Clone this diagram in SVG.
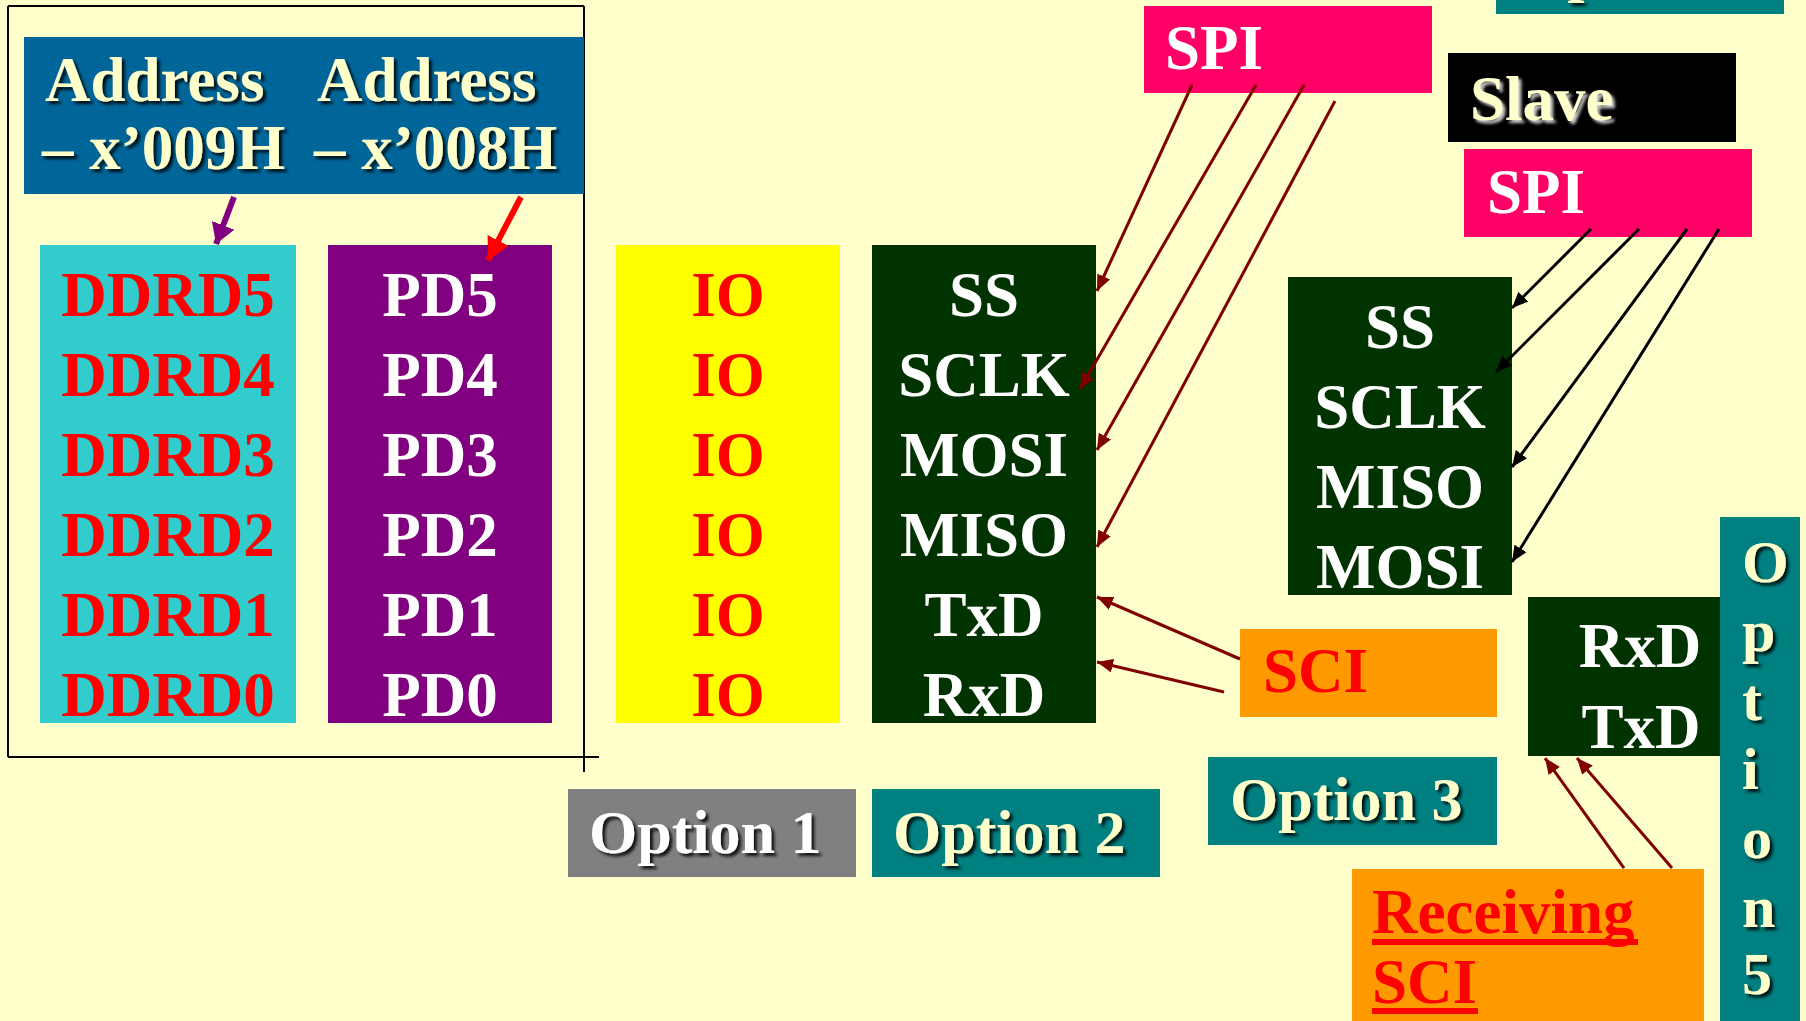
<svg xmlns="http://www.w3.org/2000/svg" width="1806" height="1021" viewBox="0 0 1806 1021">
  <defs>
    <style>
      .t { font-family: "Liberation Serif", "Times New Roman", serif; font-weight: bold; font-size: 63px; }
      .opt { font-size: 62px; }
      .mid { text-anchor: middle; }
      .cream { fill: #FFFFCC; }
      .white { fill: #FFFFFF; }
      .red { fill: #FF0000; }
      .wire { stroke: #800000; stroke-width: 3; fill: none; }
      .wire-k { stroke: #000000; stroke-width: 3; fill: none; }
      .frame { stroke: #000000; stroke-width: 2; fill: none; }
    </style>
    <filter id="shadow" x="-10%" y="-20%" width="130%" height="150%">
      <feDropShadow dx="3" dy="3" stdDeviation="1.5" flood-color="#000000" flood-opacity="0.85"/>
    </filter>
    <filter id="glow" x="-10%" y="-20%" width="130%" height="150%">
      <feDropShadow dx="3" dy="3" stdDeviation="1.5" flood-color="#E0E0E0" flood-opacity="0.9"/>
    </filter>
    <marker id="ah-maroon" markerUnits="userSpaceOnUse" markerWidth="18" markerHeight="16" refX="16" refY="7" orient="auto">
      <path d="M0,0 L16,7 L0,14 Z" fill="#800000"/>
    </marker>
    <marker id="ah-black" markerUnits="userSpaceOnUse" markerWidth="18" markerHeight="16" refX="16" refY="7" orient="auto">
      <path d="M0,0 L16,7 L0,14 Z" fill="#000000"/>
    </marker>
    <marker id="ah-purple" markerUnits="userSpaceOnUse" markerWidth="22" markerHeight="26" refX="20" refY="12" orient="auto">
      <path d="M0,0 L20,12 L0,24 Z" fill="#800080"/>
    </marker>
    <marker id="ah-red" markerUnits="userSpaceOnUse" markerWidth="24" markerHeight="26" refX="22" refY="12" orient="auto">
      <path d="M0,0 L22,12 L0,24 Z" fill="#FF0000"/>
    </marker>
  </defs>

  <!-- page -->
  <rect x="0" y="0" width="1806" height="1021" fill="#FFFFCC"/>

  <!-- register frame -->
  <g id="frame">
    <line class="frame" x1="8" y1="6" x2="584" y2="6"/>
    <line class="frame" x1="8" y1="6" x2="8" y2="757"/>
    <line class="frame" x1="8" y1="757" x2="599" y2="757"/>
    <line class="frame" x1="584" y1="6" x2="584" y2="772"/>
  </g>

  <g id="address">
    <rect x="24" y="37" width="560" height="157" fill="#006699"/>
    <g class="t cream" filter="url(#shadow)">
      <text x="45" y="101">Address</text>
      <text x="317" y="101">Address</text>
      <text x="42" y="169">– x’009H</text>
      <text x="314" y="169">– x’008H</text>
    </g>
  </g>

  <g id="ddrd">
    <rect x="40" y="245" width="256" height="478" fill="#33CCCC"/>
    <g class="t red mid">
      <text x="168" y="316">DDRD5</text>
      <text x="168" y="396">DDRD4</text>
      <text x="168" y="476">DDRD3</text>
      <text x="168" y="556">DDRD2</text>
      <text x="168" y="636">DDRD1</text>
      <text x="168" y="716">DDRD0</text>
    </g>
  </g>

  <g id="portd">
    <rect x="328" y="245" width="224" height="478" fill="#800080"/>
    <g class="t white mid">
      <text x="440" y="316">PD5</text>
      <text x="440" y="396">PD4</text>
      <text x="440" y="476">PD3</text>
      <text x="440" y="556">PD2</text>
      <text x="440" y="636">PD1</text>
      <text x="440" y="716">PD0</text>
    </g>
  </g>

  <g id="io">
    <rect x="616" y="245" width="224" height="478" fill="#FFFF00"/>
    <g class="t red mid">
      <text x="728" y="316">IO</text>
      <text x="728" y="396">IO</text>
      <text x="728" y="476">IO</text>
      <text x="728" y="556">IO</text>
      <text x="728" y="636">IO</text>
      <text x="728" y="716">IO</text>
    </g>
  </g>

  <g id="pins-master">
    <rect x="872" y="245" width="224" height="478" fill="#003300"/>
    <g class="t white mid">
      <text x="984" y="316">SS</text>
      <text x="984" y="396">SCLK</text>
      <text x="984" y="476">MOSI</text>
      <text x="984" y="556">MISO</text>
      <text x="984" y="636">TxD</text>
      <text x="984" y="716">RxD</text>
    </g>
  </g>

  <g id="option1">
    <rect x="568" y="789" width="288" height="88" fill="#808080"/>
    <text class="t opt white" x="589" y="853" filter="url(#shadow)">Option 1</text>
  </g>

  <g id="option2">
    <rect x="872" y="789" width="288" height="88" fill="#008080"/>
    <text class="t opt cream" x="893" y="853" filter="url(#shadow)">Option 2</text>
  </g>

  <g id="spi-master">
    <rect x="1144" y="6" width="288" height="87" fill="#FF0066"/>
    <text class="t white" x="1165" y="69">SPI</text>
  </g>

  <g id="option4">
    <rect x="1496" y="0" width="288" height="14" fill="#008080"/>
    <text class="t opt cream" x="1519" y="-10" filter="url(#shadow)">Option 4</text>
  </g>

  <g id="slave">
    <rect x="1448" y="53" width="288" height="89" fill="#000000"/>
    <text class="t cream" x="1470" y="120" filter="url(#glow)">Slave</text>
  </g>

  <g id="spi-slave">
    <rect x="1464" y="149" width="288" height="88" fill="#FF0066"/>
    <text class="t white" x="1487" y="213">SPI</text>
  </g>

  <g id="pins-slave">
    <rect x="1288" y="277" width="224" height="318" fill="#003300"/>
    <g class="t white mid">
      <text x="1400" y="348">SS</text>
      <text x="1400" y="428">SCLK</text>
      <text x="1400" y="508">MISO</text>
      <text x="1400" y="588">MOSI</text>
    </g>
  </g>

  <g id="sci">
    <rect x="1240" y="629" width="257" height="88" fill="#FF9900"/>
    <text class="t red" x="1263" y="692">SCI</text>
  </g>

  <g id="option3">
    <rect x="1208" y="757" width="289" height="88" fill="#008080"/>
    <text class="t opt cream" x="1230" y="820" filter="url(#shadow)">Option 3</text>
  </g>

  <g id="pins-sci">
    <rect x="1528" y="597" width="192" height="159" fill="#003300"/>
    <g class="t white mid">
      <text x="1640" y="667">RxD</text>
      <text x="1641" y="748">TxD</text>
    </g>
  </g>

  <g id="option5">
    <rect x="1720" y="517" width="80" height="504" fill="#008080"/>
    <g class="t cream" font-size="60" filter="url(#shadow)" style="font-size:60px">
      <text x="1742" y="582">O</text>
      <text x="1742" y="651">p</text>
      <text x="1742" y="720">t</text>
      <text x="1742" y="789">i</text>
      <text x="1742" y="858">o</text>
      <text x="1742" y="927">n</text>
      <text x="1742" y="994">5</text>
    </g>
  </g>

  <g id="receiving-sci">
    <rect x="1352" y="869" width="352" height="152" fill="#FF9900"/>
    <text class="t red" x="1372" y="933">Receiving</text>
    <rect x="1372" y="939" width="266" height="6" fill="#FF0000"/>
    <text class="t red" x="1372" y="1003">SCI</text>
    <rect x="1372" y="1008" width="106" height="6" fill="#FF0000"/>
  </g>

  <!-- connectors -->
  <g id="connectors">
    <line x1="234" y1="197" x2="216" y2="244" stroke="#800080" stroke-width="6" marker-end="url(#ah-purple)"/>
    <line x1="521" y1="197" x2="488" y2="260" stroke="#FF0000" stroke-width="6" marker-end="url(#ah-red)"/>

    <line class="wire" x1="1192" y1="85" x2="1097" y2="291" marker-end="url(#ah-maroon)"/>
    <line class="wire" x1="1256" y1="85" x2="1080" y2="389" marker-end="url(#ah-maroon)"/>
    <line class="wire" x1="1304" y1="85" x2="1097" y2="450" marker-end="url(#ah-maroon)"/>
    <line class="wire" x1="1335" y1="101" x2="1097" y2="547" marker-end="url(#ah-maroon)"/>

    <line class="wire" x1="1240" y1="659" x2="1097" y2="597" marker-end="url(#ah-maroon)"/>
    <line class="wire" x1="1224" y1="692" x2="1097" y2="662" marker-end="url(#ah-maroon)"/>

    <line class="wire-k" x1="1591" y1="229" x2="1512" y2="308" marker-end="url(#ah-black)"/>
    <line class="wire-k" x1="1639" y1="229" x2="1496" y2="372" marker-end="url(#ah-black)"/>
    <line class="wire-k" x1="1687" y1="229" x2="1512" y2="467" marker-end="url(#ah-black)"/>
    <line class="wire-k" x1="1719" y1="229" x2="1512" y2="562" marker-end="url(#ah-black)"/>

    <line class="wire" x1="1624" y1="868" x2="1545" y2="758" marker-end="url(#ah-maroon)"/>
    <line class="wire" x1="1672" y1="868" x2="1577" y2="758" marker-end="url(#ah-maroon)"/>
  </g>
</svg>
